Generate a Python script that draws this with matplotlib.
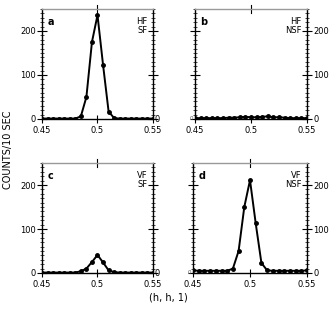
import matplotlib
matplotlib.use("Agg")
import matplotlib.pyplot as plt
from matplotlib.ticker import MultipleLocator

h = [0.45 + 0.005 * i for i in range(21)]

counts_a = [1, 1, 1, 1, 1, 1, 1, 6, 50, 175, 236, 123, 17, 2, 1, 1, 1, 1, 1, 1, 1]
counts_b = [2, 2, 2, 2, 2, 2, 3, 3, 4, 5, 4, 4, 5, 6, 4, 4, 3, 2, 2, 2, 2]
counts_c = [1, 1, 1, 1, 1, 1, 1, 4, 10, 25, 41, 24, 6, 2, 1, 1, 1, 1, 1, 1, 1]
counts_d = [6, 5, 5, 5, 5, 5, 5, 10, 50, 150, 211, 113, 23, 6, 5, 5, 5, 5, 5, 5, 6]

panels = [
    ("a", "HF\nSF", counts_a, "left"),
    ("b", "HF\nNSF", counts_b, "right"),
    ("c", "VF\nSF", counts_c, "left"),
    ("d", "VF\nNSF", counts_d, "right"),
]

xticks = [0.45, 0.5, 0.55]
xticklabels = ["0.45", "0.5", "0.55"]

fig = plt.figure(figsize=(3.32, 3.09), dpi=100)
W, H = 332, 309
boxes = [(42, 9, 153, 119), (195, 9, 307, 119), (42, 163, 153, 273), (193, 163, 307, 273)]

fs = 6
for (name, tag, counts, side), (x0, y0, x1, y1) in zip(panels, boxes):
    ax = fig.add_axes([x0 / W, 1 - y1 / H, (x1 - x0) / W, (y1 - y0) / H])
    ax.plot(h, counts, color="black", linewidth=1.4, marker="o", markersize=2.5)
    ax.set_xlim(0.45, 0.55)
    ax.set_ylim(0, 250)
    ax.set_xticks(xticks)
    ax.set_xticklabels(xticklabels, fontsize=fs)
    ax.yaxis.set_major_locator(MultipleLocator(100))
    ax.yaxis.set_minor_locator(MultipleLocator(10))
    ax.tick_params(axis="y", which="major", direction="inout", length=7, width=0.8,
                   left=True, right=True, labelsize=fs, pad=1)
    ax.tick_params(axis="y", which="minor", direction="inout", length=2.5, width=0.5,
                   left=True, right=True)
    ax.tick_params(axis="x", direction="inout", length=6, width=0.8, labelsize=fs, pad=2)
    for s in ["left", "right", "bottom"]:
        ax.spines[s].set_linewidth(1.0)
    ax.spines["top"].set_color("#999999")
    ax.spines["top"].set_linewidth(1.0)
    ax.axvline(0.5, ymin=0.96, ymax=1.04, color="black", linewidth=0.8, clip_on=False)

    if side == "left":
        ax.tick_params(axis="y", labelleft=True, labelright=False)
        ax.text(1.01, 0, "0", transform=ax.transAxes, fontsize=fs, va="center", ha="left")
    else:
        ax.tick_params(axis="y", labelleft=False, labelright=True)
        ax.text(-0.02, 0, "0", transform=ax.transAxes, fontsize=4, va="center", ha="right",
                color="#555555")

    ax.text(0.05, 0.93, name, transform=ax.transAxes, fontsize=7, fontweight="bold",
            va="top", ha="left")
    ax.text(0.95, 0.93, tag, transform=ax.transAxes, fontsize=6, va="top", ha="right",
            linespacing=1.0)

fig.text(8 / W, 1 - 150 / H, "COUNTS/10 SEC", rotation=90, fontsize=7, va="center", ha="center")
fig.text(168 / W, 1 - 298 / H, "(h, h, 1)", fontsize=7, va="center", ha="center")

fig.savefig("out.png", dpi=100)
